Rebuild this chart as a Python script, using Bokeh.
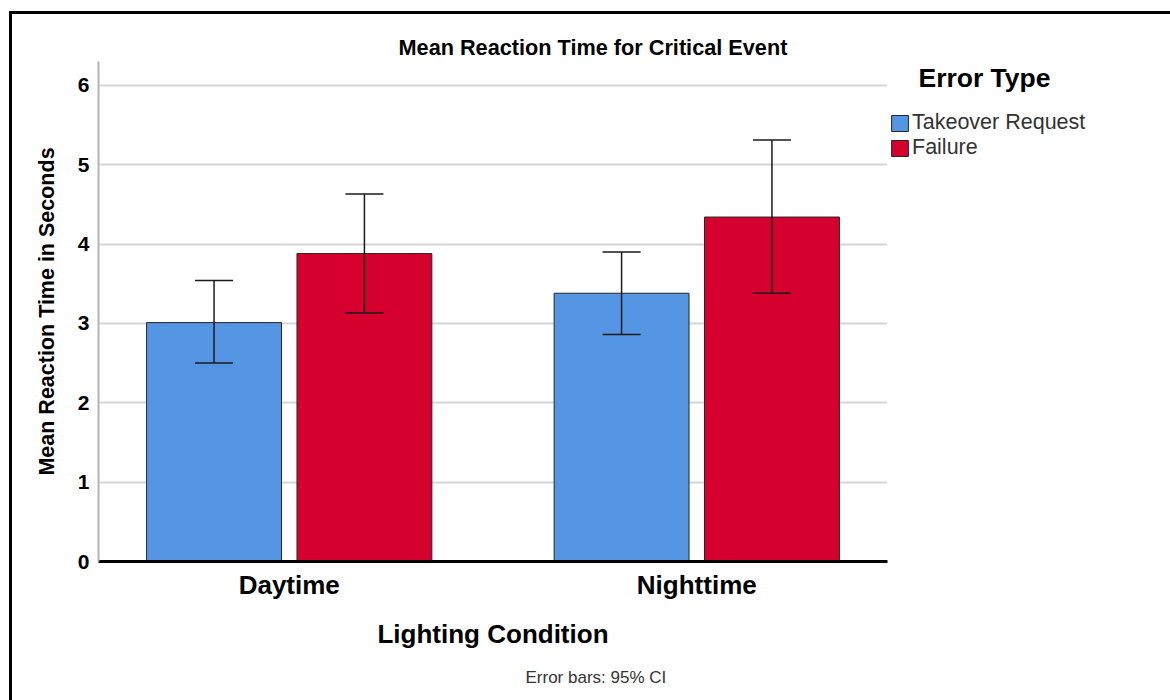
from bokeh.plotting import figure
from bokeh.models import (ColumnDataSource, FactorRange, Range1d, Whisker, TeeHead,
                          Legend, LegendItem, Title, SingleIntervalTicker)
from bokeh.transform import dodge
from bokeh.embed import file_html
from bokeh.resources import INLINE

# ---- data ----
conditions = ["Daytime", "Nighttime"]
series = ["Takeover Request", "Failure"]
takeover_mean = [3.01, 3.38]
takeover_lower = [2.50, 2.86]
takeover_upper = [3.54, 3.90]
failure_mean = [3.88, 4.34]
failure_lower = [3.13, 3.38]
failure_upper = [4.63, 5.31]
colors = ["#5596E4", "#D6002F"]

FONT = "Liberation Sans"

p = figure(x_range=FactorRange(factors=conditions, range_padding=-0.032),
           y_range=Range1d(0, 6.3),
           frame_width=789, frame_height=500, output_backend="svg", toolbar_location=None,
           min_border_left=86, min_border_top=47, min_border_right=280, min_border_bottom=137)
p.styles = {"border-left": "3px solid black", "border-top": "3px solid black",
            "margin-left": "9px", "margin-top": "11px"}
p.outline_line_color = None
p.background_fill_color = "white"
p.border_fill_color = "white"

src_t = ColumnDataSource(dict(cat=conditions, top=takeover_mean, lo=takeover_lower, hi=takeover_upper))
src_f = ColumnDataSource(dict(cat=conditions, top=failure_mean, lo=failure_lower, hi=failure_upper))

off = 0.1845
bw = 0.331
r_t = p.vbar(x=dodge("cat", -off, range=p.x_range), top="top", width=bw, source=src_t,
             fill_color=colors[0], line_color="#262626", line_width=1)
r_f = p.vbar(x=dodge("cat", off, range=p.x_range), top="top", width=bw, source=src_f,
             fill_color=colors[1], line_color="#262626", line_width=1)

for src, o in ((src_t, -off), (src_f, off)):
    w = Whisker(source=src, base=dodge("cat", o, range=p.x_range), upper="hi", lower="lo",
                line_color="#1a1a1a", line_width=1.5, level="overlay",
                upper_head=TeeHead(size=38, line_color="#1a1a1a", line_width=1.5),
                lower_head=TeeHead(size=38, line_color="#1a1a1a", line_width=1.5))
    p.add_layout(w)

# axes
p.xaxis.axis_line_color = "black"
p.xaxis.axis_line_width = 3
p.xaxis.major_tick_line_color = None
p.xaxis.major_tick_out = 0
p.xaxis.minor_tick_line_color = None
p.xaxis.major_label_text_font = FONT
p.xaxis.major_label_text_font_style = "bold"
p.xaxis.major_label_text_font_size = "26px"
p.xaxis.major_label_text_color = "black"
p.xaxis.major_label_standoff = 8
p.xaxis.axis_label = "Lighting Condition"
p.xaxis.axis_label_text_font = FONT
p.xaxis.axis_label_text_font_style = "bold"
p.xaxis.axis_label_text_font_size = "26px"
p.xaxis.axis_label_text_color = "black"
p.xaxis.axis_label_standoff = 16

p.yaxis.ticker = SingleIntervalTicker(interval=1)
p.yaxis.axis_line_color = "#b4b4b4"
p.yaxis.axis_line_width = 2
p.yaxis.major_tick_line_color = None
p.yaxis.major_tick_out = 0
p.yaxis.minor_tick_line_color = None
p.yaxis.major_label_text_font = FONT
p.yaxis.major_label_text_font_style = "bold"
p.yaxis.major_label_text_font_size = "21px"
p.yaxis.major_label_text_color = "black"
p.yaxis.major_label_standoff = 5
p.yaxis.axis_label = "Mean Reaction Time in Seconds"
p.yaxis.axis_label_text_font = FONT
p.yaxis.axis_label_text_font_style = "bold"
p.yaxis.axis_label_text_font_size = "21.5px"
p.yaxis.axis_label_text_color = "black"
p.yaxis.axis_label_standoff = 16

p.xgrid.grid_line_color = None
p.ygrid.grid_line_color = "#d6d6d6"
p.ygrid.grid_line_width = 2

# titles
t = Title(text="Mean Reaction Time for Critical Event", align="left", offset=300,
          text_font=FONT, text_font_style="bold", text_font_size="21.7px", text_color="black",
          standoff=4)
p.add_layout(t, "above")
foot = Title(text="Error bars: 95% CI", align="left", offset=427,
             text_font=FONT, text_font_style="normal", text_font_size="17px", text_color="#333333",
             standoff=29)
p.add_layout(foot, "below")

# legend (right of the plot area)
legend = Legend(items=[LegendItem(label=series[0], renderers=[r_t]),
                       LegendItem(label=series[1], renderers=[r_f])],
                title="\u00a0\u00a0\u00a0\u00a0Error Type",
                title_text_font=FONT, title_text_font_style="bold", title_text_font_size="26.5px",
                title_text_color="black", title_standoff=16,
                location="top_left", orientation="vertical",
                glyph_width=21, glyph_height=20, label_height=18, spacing=0,
                label_standoff=2, padding=0, margin=2,
                label_text_font=FONT, label_text_font_size="21.5px", label_text_color="#333333",
                border_line_color=None, background_fill_alpha=0)
p.add_layout(legend, "right")

open("out.html", "w").write(file_html(p, INLINE))
